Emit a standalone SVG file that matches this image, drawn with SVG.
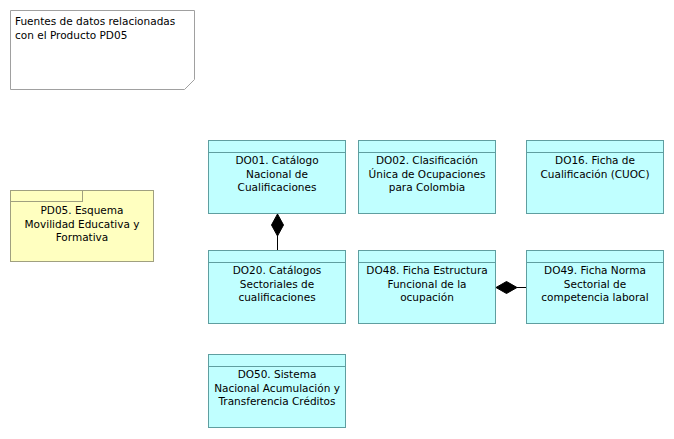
<svg xmlns="http://www.w3.org/2000/svg" width="674" height="439" viewBox="0 0 674 439">
<style>
text{font-family:"DejaVu Sans","Liberation Sans",sans-serif;font-size:10.5px;fill:#000}
.c{text-anchor:middle}
.do rect,.do line{fill:#c0ffff;stroke:#5f9ea0;stroke-width:1}
.pd rect{fill:#ffffc0;stroke:#a0a080;stroke-width:1}
.conn line{stroke:#000;stroke-width:1}
.conn polygon{fill:#000;stroke:#000}
</style>
<rect width="674" height="439" fill="#fff"/>
<g id="note">
<path d="M10.5 10.5H194.5V79.5L184.5 89.5H10.5Z" fill="#fff" stroke="#a0a0a0"/>
<text x="15" y="25">Fuentes de datos relacionadas</text>
<text x="15" y="39">con el Producto PD05</text>
</g>
<g id="PD05" class="pd">
<rect x="10.5" y="190.5" width="143" height="71"/>
<rect x="10.5" y="190.5" width="72" height="11"/>
<text class="c" x="82" y="214">PD05. Esquema</text>
<text class="c" x="82" y="227.5">Movilidad Educativa y</text>
<text class="c" x="82" y="241">Formativa</text>
</g>
<g id="DO01" class="do">
<rect x="208.5" y="140.5" width="137" height="73"/>
<line x1="208.5" y1="152.5" x2="345.5" y2="152.5"/>
<text class="c" x="277" y="164">DO01. Catálogo</text>
<text class="c" x="277" y="177.5">Nacional de</text>
<text class="c" x="277" y="191">Cualificaciones</text>
</g>
<g id="DO02" class="do">
<rect x="358.5" y="140.5" width="137" height="73"/>
<line x1="358.5" y1="152.5" x2="495.5" y2="152.5"/>
<text class="c" x="427" y="164">DO02. Clasificación</text>
<text class="c" x="427" y="177.5">Única de Ocupaciones</text>
<text class="c" x="427" y="191">para Colombia</text>
</g>
<g id="DO16" class="do">
<rect x="526.5" y="140.5" width="137" height="73"/>
<line x1="526.5" y1="152.5" x2="663.5" y2="152.5"/>
<text class="c" x="595" y="164">DO16. Ficha de</text>
<text class="c" x="595" y="177.5">Cualificación (CUOC)</text>
</g>
<g id="DO20" class="do">
<rect x="208.5" y="250.5" width="137" height="73"/>
<line x1="208.5" y1="262.5" x2="345.5" y2="262.5"/>
<text class="c" x="277" y="274">DO20. Catálogos</text>
<text class="c" x="277" y="287.5">Sectoriales de</text>
<text class="c" x="277" y="301">cualificaciones</text>
</g>
<g id="DO48" class="do">
<rect x="358.5" y="250.5" width="137" height="73"/>
<line x1="358.5" y1="262.5" x2="495.5" y2="262.5"/>
<text class="c" x="427" y="274">DO48. Ficha Estructura</text>
<text class="c" x="427" y="287.5">Funcional de la</text>
<text class="c" x="427" y="301">ocupación</text>
</g>
<g id="DO49" class="do">
<rect x="526.5" y="250.5" width="137" height="73"/>
<line x1="526.5" y1="262.5" x2="663.5" y2="262.5"/>
<text class="c" x="595" y="274">DO49. Ficha Norma</text>
<text class="c" x="595" y="287.5">Sectorial de</text>
<text class="c" x="595" y="301">competencia laboral</text>
</g>
<g id="DO50" class="do">
<rect x="208.5" y="354.5" width="137" height="73"/>
<line x1="208.5" y1="366.5" x2="345.5" y2="366.5"/>
<text class="c" x="277" y="378">DO50. Sistema</text>
<text class="c" x="277" y="391.5">Nacional Acumulación y</text>
<text class="c" x="277" y="405">Transferencia Créditos</text>
</g>
<g id="connectors" class="conn">
<line x1="277.5" y1="236" x2="277.5" y2="250"/>
<polygon points="277.5,214 283.5,225 277.5,236 271.5,225"/>
<line x1="517" y1="287.5" x2="526" y2="287.5"/>
<polygon points="496,287.5 506.5,281.5 517,287.5 506.5,293.5"/>
</g>
</svg>
